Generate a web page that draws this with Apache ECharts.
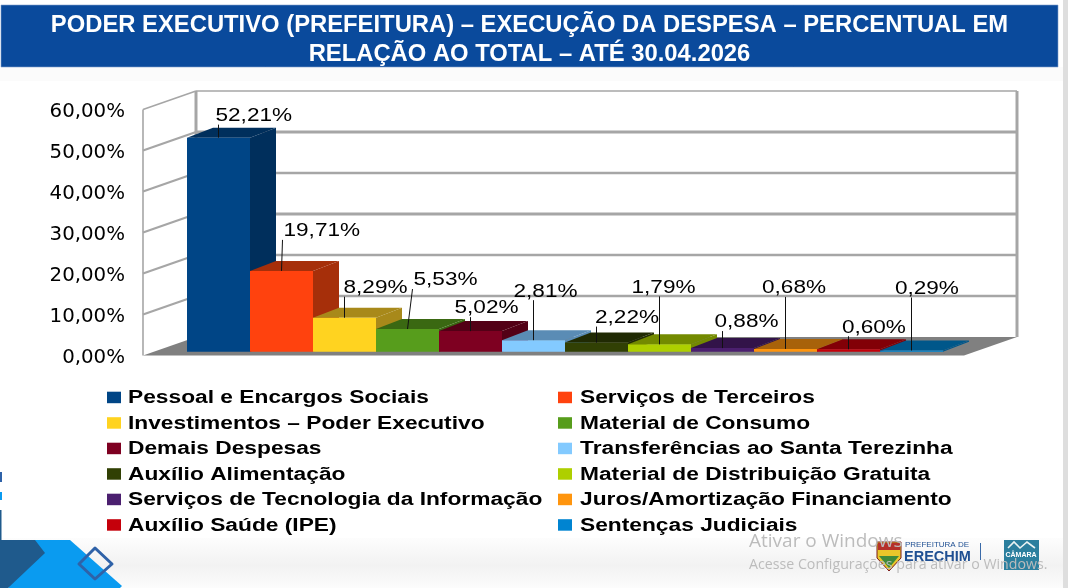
<!DOCTYPE html>
<html><head><meta charset="utf-8">
<style>html,body{margin:0;padding:0;background:#fff}#c{width:1068px;height:588px}</style>
<script src="https://cdn.jsdelivr.net/npm/echarts@6/dist/echarts.min.js"></script>
</head><body><div id="c"></div>
<script>
var titleText = 'PODER EXECUTIVO (PREFEITURA) – EXECUÇÃO DA DESPESA – PERCENTUAL EM\nRELAÇÃO AO TOTAL – ATÉ 30.04.2026';
var categories = ['Pessoal e Encargos Sociais','Serviços de Terceiros','Investimentos – Poder Executivo','Material de Consumo','Demais Despesas','Transferências ao Santa Terezinha','Auxílio Alimentação','Material de Distribuição Gratuita','Serviços de Tecnologia da Informação','Juros/Amortização Financiamento','Auxílio Saúde (IPE)','Sentenças Judiciais'];
var values = [52.21,19.71,8.29,5.53,5.02,2.81,2.22,1.79,0.88,0.68,0.60,0.29];
var axisTicks = [0,10,20,30,40,50,60];
var frontColors = ['#004586','#ff420e','#ffd320','#579d1c','#7e0021','#83caff','#314004','#aecf00','#4b1f6f','#ff950e','#c5000b','#0084d1'];
var sideColors = ['#002f5c','#a62f0a','#a8891a','#3a6812','#530016','#5a8cb5','#202a03','#738a00','#321349','#a8620a','#820007','#00578a'];
var leaderLength = [13,31,21,40,14,40,16,48,17,52,13,53];
var leaderLean = [0,1,0,5,0,0,0,0,0,0,0,0];
var labelShift = [-3,1,-1,1,-16,-20,-1.5,-28,-8,-23.5,-6.6,-16.6];

var WALL = [53,-18.5], BAR = [26,-10], TEXT_X = 1.29, LEG_X = 1.264;
var GREY = '#a6a6a6';
function pct(v){ return v.toFixed(2).replace('.',',') + '%'; }
function line(a,b,w,c){ return {type:'line',shape:{x1:a[0],y1:a[1],x2:b[0],y2:b[1]},style:{stroke:c||GREY,lineWidth:w}}; }
function poly(p,c){ return {type:'polygon',shape:{points:p},style:{fill:c}}; }
function add(p,d){ return [p[0]+d[0],p[1]+d[1]]; }

function renderWall(params, api){
  var v = api.value(1), L = api.coord([0,v]), R = api.coord([1,v]);
  var kids = [];
  if (v === 0) {
    var L6 = api.coord([0,60]);
    kids.push(poly([L,R,add(R,WALL),add(L,WALL)],'#808080'));
    kids.push(line(L,L6,1.6));
    kids.push(line(add(L,WALL),add(L6,WALL),3));
    var R6 = api.coord([1,60]);
    kids.push(line(add(R,WALL),add(R6,WALL),3));
  } else {
    kids.push(line(L,add(L,WALL),v===60?1.6:2.2));
    kids.push(line(add(L,WALL),add(R,WALL),v===60?1.4:(v===30||v===50?3:2.4)));
  }
  return {type:'group',children:kids};
}
function renderBar(params, api){
  var i = api.value(0), v = api.value(1), T = api.coord([i,v]), B = api.coord([i,0]);
  var w = api.size([1,0])[0], xl = T[0]-w/2, xr = T[0]+w/2;
  var tl=[xl,T[1]], tr=[xr,T[1]], br=[xr,B[1]], bl=[xl,B[1]];
  return {type:'group',children:[
    poly([tr,br,add(br,BAR),add(tr,BAR)],sideColors[i]),
    poly([tl,tr,add(tr,BAR),add(tl,BAR)],sideColors[i]),
    poly([tl,tr,br,bl],frontColors[i])
  ]};
}
function renderLabel(params, api){
  var i = api.value(0), v = api.value(1), T = api.coord([i,v]);
  var top = [T[0]+leaderLean[i], T[1]-leaderLength[i]];
  return {type:'group',children:[
    line([T[0],T[1]],top,1,'#111'),
    {type:'text',x:top[0]+labelShift[i],y:top[1]-8.5,scaleX:TEXT_X,
     style:{text:pct(v),fontFamily:'Liberation Sans',fontSize:17.5,fill:'#000',align:'left',verticalAlign:'middle'}}
  ]};
}
var gfx = [
  {type:'rect',shape:{x:0,y:538,width:1068,height:50},style:{fill:new echarts.graphic.LinearGradient(0,0,0,1,[{offset:0,color:'#fdfdfd'},{offset:.55,color:'#f2f2f2'},{offset:1,color:'#fcfcfc'}])}},
  {type:'rect',shape:{x:0,y:67,width:1068,height:14},style:{fill:'#fbfbfb'}},
  {type:'rect',shape:{x:1063,y:0,width:5,height:588},style:{fill:'#dedede'}},
  {type:'rect',shape:{x:1,y:5,width:1057,height:62},style:{fill:'#0a4a9c',stroke:'#7f9fcc',lineWidth:.6}},
  {type:'rect',shape:{x:0,y:81,width:1060,height:457},style:{fill:'#fff'}},
  {type:'polygon',shape:{points:[[35,540],[70,540],[122,586],[120,588],[8,588]]},style:{fill:'#0a9bf0'}},
  {type:'polygon',shape:{points:[[0,540],[35,540],[45,553],[8,588],[0,588]]},style:{fill:'#1f5a8c'}},
  {type:'polygon',shape:{points:[[95,548],[112,564],[95,579],[79,564]]},style:{fill:'none',stroke:'#2f62a8',lineWidth:3,lineJoin:'round'}},
  {type:'rect',shape:{x:0,y:472,width:2,height:10},style:{fill:'#2f62a8'}},
  {type:'rect',shape:{x:0,y:492,width:2,height:8},style:{fill:'#0a9bf0'}},
  {type:'rect',shape:{x:0,y:510,width:1.5,height:30},style:{fill:'#1f5a8c'}},
  // crest
  {type:'polygon',shape:{points:[[877,542],[901,542],[901,558],[889,571],[877,558]]},style:{fill:'#e9c62a',stroke:'#7a1a1a',lineWidth:1}},
  {type:'rect',shape:{x:878,y:543,width:22,height:7},style:{fill:'#b5302a'}},
  {type:'polygon',shape:{points:[[879,556],[899,556],[889,568]]},style:{fill:'#3f8a3a'}},
  {type:'rect',shape:{x:980,y:543,width:1,height:17},style:{fill:'#3a6aa8'}},
  {type:'rect',shape:{x:1004,y:540,width:35,height:30},style:{fill:'#2b7f9e'}},
  {type:'polyline',shape:{points:[[1008,548],[1014,542],[1020,548],[1027,542],[1035,548]]},style:{fill:'none',stroke:'#eaf3f3',lineWidth:1.6}},
  {type:'text',x:1021,y:555,style:{text:'CÂMARA',fontFamily:'Liberation Sans',fontWeight:'bold',fontSize:7,fill:'#fff',align:'center',verticalAlign:'middle'}},
  {type:'text',x:905,y:545,style:{text:'PREFEITURA DE',fontFamily:'Liberation Sans',fontSize:8,fill:'#1f4f92',align:'left',verticalAlign:'middle'}},
  {type:'text',x:904,y:557,style:{text:'ERECHIM',fontFamily:'Liberation Sans',fontWeight:'bold',fontSize:14.5,fill:'#1f4f92',align:'left',verticalAlign:'middle'}},
  {type:'text',x:749,y:542,style:{text:'Ativar o Windows',fontFamily:'Open Sans',fontSize:19,fill:'#bcbcbc',align:'left',verticalAlign:'middle'}},
  {type:'text',x:749,y:565,style:{text:'Acesse Configurações para ativar o Windows.',fontFamily:'Open Sans',fontSize:14.2,fill:'#bcbcbc',align:'left',verticalAlign:'middle'}}
];
categories.forEach(function(name,i){
  var col = i%2, row = Math.floor(i/2);
  var y = 398.2 + row*25.5;
  gfx.push({type:'rect',shape:{x:col?558:107,y:y-6.5,width:14,height:11.5},style:{fill:frontColors[i]}});
  gfx.push({type:'text',x:col?580:128,y:y,scaleX:LEG_X,style:{text:name,fontFamily:'Liberation Sans',fontWeight:'bold',fontSize:18,fill:'#000',align:'left',verticalAlign:'middle'}});
});
var chart = echarts.init(document.getElementById('c'),null,{renderer:'canvas'});
chart.setOption({
  animation:false,
  backgroundColor:'#fff',
  title:{text:titleText,left:524.5,top:5.5,textAlign:'center',textStyle:{color:'#fff',fontFamily:'Liberation Sans',fontWeight:'bold',fontSize:23.8,lineHeight:29.5}},
  graphic:{elements:gfx},
  grid:[
    {left:143,top:109.5,width:821,height:246,show:false},
    {left:187,top:105.7,width:756,height:246,show:false}
  ],
  xAxis:[
    {gridIndex:0,type:'value',min:0,max:1,show:false},
    {gridIndex:1,type:'category',data:categories,show:false}
  ],
  yAxis:[
    {gridIndex:0,type:'value',min:0,max:60,interval:10,axisLine:{show:false},axisTick:{show:false},splitLine:{show:false},
     axisLabel:{margin:18,formatter:pct,color:'#000',fontFamily:'DejaVu Sans',fontSize:19.8,verticalAlign:'top',lineHeight:5}},
    {gridIndex:1,type:'value',min:0,max:60,interval:10,show:false}
  ],
  series:[
    {type:'custom',name:'wall',xAxisIndex:0,yAxisIndex:0,renderItem:renderWall,data:axisTicks.map(function(t){return [0,t];}),silent:true,z:1},
    {type:'custom',name:'bars',xAxisIndex:1,yAxisIndex:1,renderItem:renderBar,data:values.map(function(v,i){return [i,v];}),z:2},
    {type:'custom',name:'labels',xAxisIndex:1,yAxisIndex:1,renderItem:renderLabel,data:values.map(function(v,i){return [i,v];}),z:3}
  ]
});
</script></body></html>
